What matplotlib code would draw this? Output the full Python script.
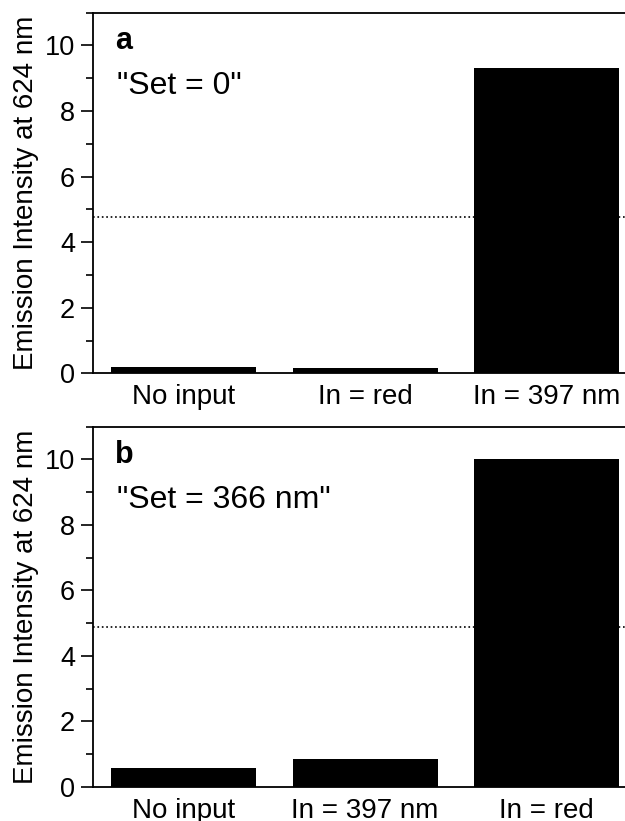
import matplotlib
matplotlib.use("Agg")
import matplotlib.pyplot as plt
from matplotlib.ticker import MultipleLocator

plt.rcParams['font.family'] = ['Liberation Sans', 'DejaVu Sans']

labels_a = ["No input", "In = red", "In = 397 nm"]
values_a = [0.18, 0.17, 9.3]
threshold_a = 4.76
title_a = "a"
set_a = '"Set = 0"'

labels_b = ["No input", "In = 397 nm", "In = red"]
values_b = [0.56, 0.86, 10.0]
threshold_b = 4.88
title_b = "b"
set_b = '"Set = 366 nm"'

ylabel = "Emission Intensity at 624 nm"

W, H = 625, 821
fig = plt.figure(figsize=(W / 100, H / 100), dpi=100)

def px_axes(left, top, right, bottom):
    return fig.add_axes([left / W, 1 - bottom / H, (right - left) / W, (bottom - top) / H])

def panel(ax, labels, values, thr, letter, settext):
    x = list(range(len(labels)))
    ax.bar(x, values, width=0.8, color='black', edgecolor='none')
    ax.axhline(thr, color='black', linestyle=':', linewidth=1.2)
    ax.set_xlim(-0.5, 2.5)
    ax.set_ylim(0, 11)
    ax.yaxis.set_major_locator(MultipleLocator(2))
    ax.yaxis.set_minor_locator(MultipleLocator(1))
    ax.set_xticks(x)
    ax.set_xticklabels(labels, fontsize=20)
    ax.tick_params(axis='x', length=0, pad=8)
    ax.tick_params(axis='y', which='major', direction='out', length=8.5, width=1.2, labelsize=19.5, pad=4.5)
    ax.tick_params(axis='y', which='minor', direction='out', length=5, width=1.2)
    for s in ['left', 'top', 'bottom']:
        ax.spines[s].set_linewidth(1.3)
    ax.spines['right'].set_visible(False)
    ax.set_ylabel(ylabel, fontsize=20, labelpad=4)
    ax.text(0.04, 0.90, letter, transform=ax.transAxes, fontsize=22, fontweight='bold',
            ha='left', va='baseline')
    ax.text(0.043, 0.775, settext, transform=ax.transAxes, fontsize=23,
            ha='left', va='baseline')

ax1 = px_axes(93.3, 12.7, 637, 373.3)
panel(ax1, labels_a, values_a, threshold_a, title_a, set_a)
ax2 = px_axes(93.3, 426.7, 637, 786.7)
panel(ax2, labels_b, values_b, threshold_b, title_b, set_b)

fig.savefig("out.png", dpi=100)
